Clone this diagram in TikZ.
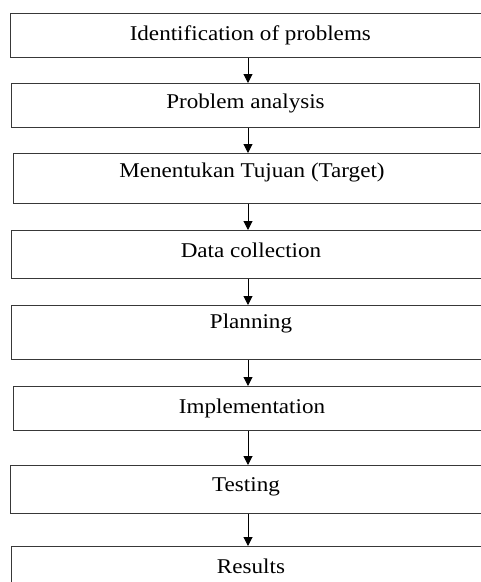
\documentclass[tikz,border=0pt]{standalone}
\usepackage{fontspec}
\setmainfont{Liberation Serif}[FakeStretch=1.1]
\usetikzlibrary{arrows.meta}
\begin{document}
\begin{tikzpicture}[x=1pt,y=-1pt,
  flowbox/.style={draw=black!78, line width=1pt, fill=white, inner xsep=0pt, inner ysep=0pt,
    anchor=north west, font=\fontsize{21}{25}\selectfont},
  arr/.style={line width=1pt, -{Triangle[width=9pt,length=9pt]}}]
\useasboundingbox (0,0) rectangle (481,582);
\clip (0,0) rectangle (481,582);
\coordinate (ax) at (248,0);
\node[flowbox, minimum width=480.3pt, text height=27pt, text depth=17pt] (b1) at (9.7,13) {Identification of problems};
\node[flowbox, minimum width=468pt, text height=24.7pt, text depth=19.3pt] (b2) at (11,83) {Problem analysis};
\node[flowbox, minimum width=477pt, text height=24pt, text depth=26pt] (b3) at (13,153) {Menentukan Tujuan (Target)};
\node[flowbox, minimum width=479pt, text height=27pt, text depth=21pt] (b4) at (11,230) {Data collection};
\node[flowbox, minimum width=479pt, text height=23pt, text depth=31pt] (b5) at (11,305) {Planning};
\node[flowbox, minimum width=477pt, text height=27pt, text depth=17pt] (b6) at (13,386) {Implementation};
\node[flowbox, minimum width=471pt, text height=26pt, text depth=22pt] (b7) at (10,465) {Testing};
\node[flowbox, minimum width=479pt, text height=27pt, text depth=27pt] (b8) at (11,546) {Results};
\draw[arr] (b1.south -| ax) -- (b2.north -| ax);
\draw[arr] (b2.south -| ax) -- (b3.north -| ax);
\draw[arr] (b3.south -| ax) -- (b4.north -| ax);
\draw[arr] (b4.south -| ax) -- (b5.north -| ax);
\draw[arr] (b5.south -| ax) -- (b6.north -| ax);
\draw[arr] (b6.south -| ax) -- (b7.north -| ax);
\draw[arr] (b7.south -| ax) -- (b8.north -| ax);
\end{tikzpicture}
\end{document}
